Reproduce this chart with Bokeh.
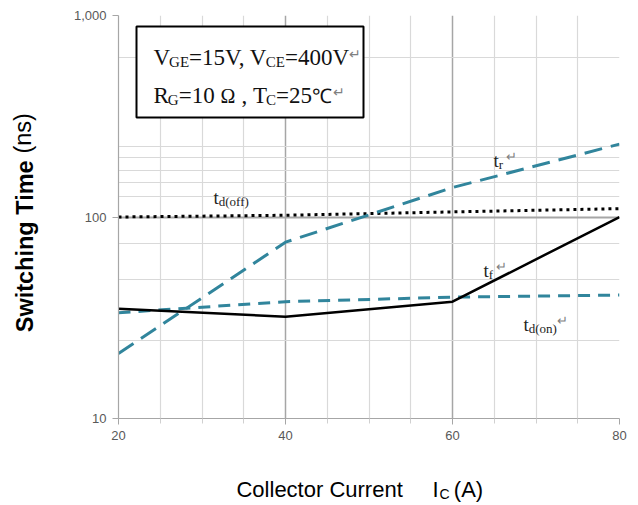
import numpy as np
from bokeh.plotting import figure
from bokeh.models import (FixedTicker, NumeralTickFormatter, Label, BoxAnnotation,
                          LinearAxis, LogAxis)
from bokeh.embed import file_html
from bokeh.resources import INLINE

# ---- data ----
current = [20, 40, 60, 80]
t_r = [21, 75, 140, 230]
t_d_off = [100, 102, 106, 110]
t_f = [35, 32, 38, 100]
t_d_on = [33.5, 38, 40, 41]

x_ticks = [20, 40, 60, 80]
x_minor = [25, 30, 35, 45, 50, 55, 65, 70, 75]
y_ticks = [10, 100, 1000]
y_grid_minor = [24.5, 49, 74, 126, 149, 171, 197, 223, 618]

# ---- layout ----
W, H = 638, 505
BL, BR, BT, BB = 118, 19, 15, 87
FX0, FY0 = BL, BT
FW, FH = W - BL - BR, H - BT - BB

def px2x(px):
    return 20 + (px - FX0) / FW * 60.0

def py2y(py):
    return 10 ** (3 - (py - FY0) / FH * 2.0)

p = figure(width=W, height=H, x_range=(20, 80), y_range=(10, 1000),
           y_axis_type="log", output_backend="svg", toolbar_location=None,
           min_border_left=BL, min_border_right=BR, min_border_top=BT,
           min_border_bottom=BB)
p.outline_line_color = None
p.background_fill_color = "white"
p.border_fill_color = "white"

# axes
p.xaxis.ticker = FixedTicker(ticks=x_ticks, minor_ticks=x_minor)
p.yaxis.ticker = FixedTicker(ticks=y_ticks, minor_ticks=y_grid_minor)
p.yaxis.formatter = NumeralTickFormatter(format="0,0")
for ax in (p.xaxis, p.yaxis):
    ax.axis_line_color = "#a6a6a6"
    ax.axis_line_width = 1.2
    ax.major_tick_line_color = "#a6a6a6"
    ax.major_tick_out = 6
    ax.major_tick_in = 0
    ax.major_label_text_font = "Liberation Sans"
    ax.major_label_text_font_size = "13px"
    ax.major_label_text_color = "#595959"
p.xaxis.minor_tick_line_color = "#d0d0d0"
p.xaxis.minor_tick_out = 5
p.xaxis.minor_tick_in = 0
p.yaxis.minor_tick_line_color = None
p.xaxis.major_label_standoff = 6
p.yaxis.major_label_standoff = 6

# grids
p.xgrid.grid_line_color = "#a6a6a6"
p.xgrid.grid_line_width = 1.5
p.xgrid.minor_grid_line_color = "#d9d9d9"
p.xgrid.minor_grid_line_width = 1.2
p.ygrid.grid_line_color = "#a6a6a6"
p.ygrid.grid_line_width = 2
p.ygrid.minor_grid_line_color = "#d9d9d9"
p.ygrid.minor_grid_line_width = 1.2

TEAL = "#31859c"
p.line(current, t_d_off, line_color="black", line_width=3, line_dash="3 4")
p.line(current, t_r, line_color=TEAL, line_width=3, line_dash="18 9")
p.line(current, t_d_on, line_color=TEAL, line_width=3, line_dash="12 8")
p.line(current, t_f, line_color="black", line_width=2.5)

# ---- text helpers ----
NB = "\u00a0"
SERIF = {"V": .722, "G": .722, "E": .611, "C": .667, "R": .667, "T": .611,
         "=": .564, ",": .25, " ": .25, NB: .25, "Ω": .768, "℃": 1.0, "↵": .84,
         "t": .278, "r": .333, "f": .333, "d": .5, "(": .333, ")": .333,
         "o": .5, "n": .5}

def width(text, size, table):
    return sum(table.get(ch, .5 if ch.isdigit() else .55) for ch in text) * size

def put(text, px, py, size, font="Liberation Serif", color="black"):
    p.add_layout(Label(x=px2x(px), y=py2y(py), text=text,
                       text_font=font, text_font_size=f"{size}px",
                       text_color=color, text_align="left",
                       text_baseline="alphabetic"))

def run(runs, px, py):
    # runs: (text, font size, baseline shift, colour, extra x shift after)
    x = px
    for text, size, dy, color, adj in runs:
        put(text, x, py + dy, size, color=color)
        x += width(text, size, SERIF) + adj

# ---- annotation box ----
p.add_layout(BoxAnnotation(left=px2x(136), right=px2x(363), top=py2y(26),
                           bottom=py2y(117), fill_color="white", fill_alpha=1,
                           line_color="black", line_alpha=1, line_width=2))
MS, SS = 23, 15
K = "#111111"
G = "#808080"
run([("V", MS, 0, K, -1), ("GE", SS, 4, K, 0), ("=15V, V", MS, 0, K, -4),
     ("CE", SS, 4, K, 0), ("=400V", MS, 0, K, 0), ("↵", 14, -3, G, 0)],
    153, 57)
run([("R", MS, 0, K, -1), ("G", SS, 4, K, 0), ("=10" + NB, MS, 0, K, 0),
     ("Ω", 20, 0, K, 0), (NB + "," + NB + "T", MS, 0, K, -1), ("C", SS, 4, K, 0),
     ("=25", MS, 0, K, 0), ("℃", 20, 0, K, 1), ("↵", 14, -3, G, 0)],
    153, 95)

# ---- curve labels ----
D = "#222222"
run([("t", 19, 0, D, 0), ("r", 13, 4, D, 3), ("↵", 13, -4, G, 0)], 493, 160)
run([("t", 19, 0, D, 0), ("d(off)", 13, 4, D, 0)], 213, 197)
run([("t", 19, 0, D, 0), ("f", 13, 4, D, 3), ("↵", 13, -4, G, 0)], 483, 270)
run([("t", 19, 0, D, 0), ("d(on)", 13, 4, D, 0), ("↵", 13, -4, G, 0)], 523, 324)

# ---- axis titles drawn as tick labels of extra, line-less axes ----
def text_axis(cls, place, ticks, labels, size, standoff, style="normal",
              orientation="horizontal"):
    ax = cls(ticker=FixedTicker(ticks=ticks, minor_ticks=[]),
             major_label_overrides=dict(zip(ticks, labels)))
    ax.axis_line_color = None
    ax.major_tick_line_color = None
    ax.minor_tick_line_color = None
    ax.major_tick_in = 0
    ax.major_tick_out = 0
    ax.major_label_standoff = standoff
    ax.major_label_text_font = "Liberation Sans"
    ax.major_label_text_font_size = f"{size}px"
    ax.major_label_text_font_style = style
    ax.major_label_text_color = "black"
    ax.major_label_orientation = orientation
    p.add_layout(ax, place)
    return ax

XT = 22
cc_w = 7.557 * XT
x_title_parts = ["Collector Current", "I", "(A)"]
x_title_pos = [px2x(236 + cc_w / 2), px2x(435), px2x(468)]
text_axis(LinearAxis, "below", x_title_pos, x_title_parts, XT, 34)
text_axis(LinearAxis, "below", [px2x(444)], ["C"], 14, -19)

YT = 23.5
y0 = 332
y_bold_pos = [py2y(y0 - 7.335 * YT / 2)]
y_norm_pos = [py2y(y0 - 7.335 * YT - 0.278 * YT - 1.722 * YT / 2)]
text_axis(LogAxis, "left", y_bold_pos, ["Switching Time"], YT, 32,
          style="bold", orientation="vertical")
text_axis(LogAxis, "left", y_norm_pos, ["(ns)"], YT, -27,
          orientation="vertical")

open("out.html", "w").write(file_html(p, INLINE))
